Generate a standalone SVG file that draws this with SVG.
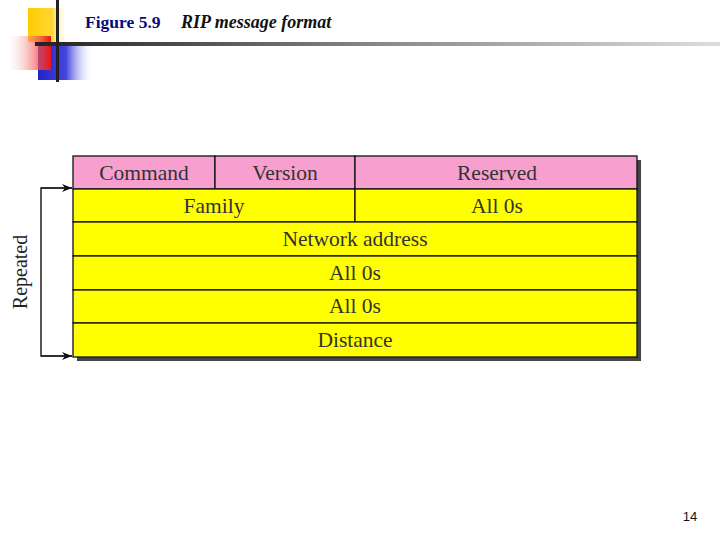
<svg xmlns="http://www.w3.org/2000/svg" width="720" height="540" viewBox="0 0 720 540">
<defs>
<linearGradient id="gY" x1="0" x2="1" y1="0" y2="0"><stop offset="0" stop-color="#ffcc00"/><stop offset="0.6" stop-color="#ffd633"/><stop offset="1" stop-color="#ffffff" stop-opacity="0"/></linearGradient>
<linearGradient id="gR" x1="1" x2="0" y1="0" y2="0"><stop offset="0" stop-color="#ee1111"/><stop offset="1" stop-color="#ffffff" stop-opacity="0"/></linearGradient>
<linearGradient id="gB" x1="0" x2="1" y1="0" y2="0"><stop offset="0" stop-color="#2222cc"/><stop offset="0.5" stop-color="#4444dd"/><stop offset="1" stop-color="#ffffff" stop-opacity="0"/></linearGradient>
<linearGradient id="gL" x1="0" x2="1" y1="0" y2="0"><stop offset="0" stop-color="#222222"/><stop offset="0.5" stop-color="#888888"/><stop offset="1" stop-color="#dddddd"/></linearGradient>
<marker id="ah" markerWidth="10" markerHeight="8" refX="10" refY="4" orient="auto" markerUnits="userSpaceOnUse"><path d="M0,0 L10,4 L0,8 L3,4 Z" fill="#111"/></marker>
</defs>
<style>
.cell{stroke:#111;stroke-width:1.3}
.pink{fill:#f79fce}
.yel{fill:#ffff00}
.t{font-family:"Liberation Serif",serif;font-size:21.5px;fill:#333;text-anchor:middle}
</style>
<g id="decor">
<rect x="28" y="8" width="40" height="34" fill="url(#gY)"/>
<rect x="38" y="43" width="56" height="37" fill="url(#gB)"/>
<rect x="4" y="36" width="47" height="34" fill="url(#gR)"/>
<rect x="35" y="42" width="685" height="4" fill="url(#gL)"/>
<rect x="56" y="0" width="3" height="82" fill="#222"/>
</g>
<g id="title">
<text x="85" y="28" font-family="Liberation Serif,serif" font-size="17.5" font-weight="bold" fill="#0a0a80">Figure 5.9</text>
<text x="181" y="28" font-family="Liberation Serif,serif" font-size="18" font-weight="bold" font-style="italic" fill="#111">RIP message format</text>
</g>
<g id="shadow"><rect x="77" y="160" width="564" height="201" fill="#444"/></g>
<g id="row1">
<rect class="cell pink" x="73" y="156" width="142" height="33"/>
<text class="t" x="144" y="180">Command</text>
<rect class="cell pink" x="215" y="156" width="140" height="33"/>
<text class="t" x="285" y="180">Version</text>
<rect class="cell pink" x="355" y="156" width="282" height="33"/>
<text class="t" x="497" y="180">Reserved</text>
</g>
<g id="row2">
<rect class="cell yel" x="73" y="189" width="282" height="33"/>
<text class="t" x="214" y="213">Family</text>
<rect class="cell yel" x="355" y="189" width="282" height="33"/>
<text class="t" x="497" y="213">All 0s</text>
</g>
<g id="row3"><rect class="cell yel" x="73" y="222" width="564" height="34"/><text class="t" x="355" y="246">Network address</text></g>
<g id="row4"><rect class="cell yel" x="73" y="256" width="564" height="34"/><text class="t" x="355" y="280">All 0s</text></g>
<g id="row5"><rect class="cell yel" x="73" y="290" width="564" height="33"/><text class="t" x="355" y="313">All 0s</text></g>
<g id="row6"><rect class="cell yel" x="73" y="323" width="564" height="34"/><text class="t" x="355" y="347">Distance</text></g>
<g id="connectors">
<path d="M72,188 H41 V356 H72" fill="none" stroke="#222" stroke-width="1.5"/>
<path d="M41,188 H72" fill="none" stroke="#222" stroke-width="1.5" marker-end="url(#ah)"/>
<path d="M41,356 H72" fill="none" stroke="#222" stroke-width="1.5" marker-end="url(#ah)"/>
</g>
<g id="repeated"><text transform="translate(27,272) rotate(-90)" font-family="Liberation Serif,serif" font-size="20" fill="#222" text-anchor="middle">Repeated</text></g>
<g id="page"><text x="690" y="521" font-family="Liberation Sans,sans-serif" font-size="13" fill="#111" text-anchor="middle">14</text></g>
</svg>
